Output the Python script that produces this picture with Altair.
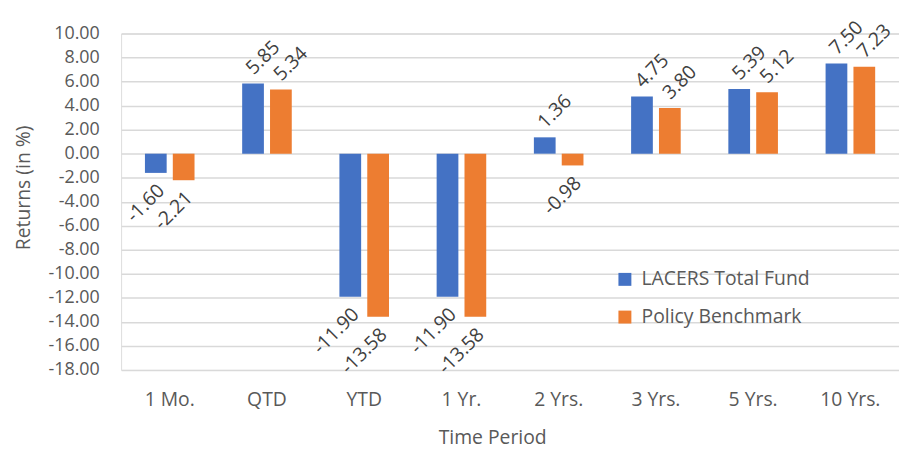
import altair as alt
import pandas as pd

periods = ["1 Mo.", "QTD", "YTD", "1 Yr.", "2 Yrs.", "3 Yrs.", "5 Yrs.", "10 Yrs."]
fund = [-1.60, 5.85, -11.90, -11.90, 1.36, 4.75, 5.39, 7.50]
bench = [-2.21, 5.34, -13.58, -13.58, -0.98, 3.80, 5.12, 7.23]
series_names = ["LACERS Total Fund", "Policy Benchmark"]
colors = ["#4472C4", "#ED7D31"]
y_ticks = [-18, -16, -14, -12, -10, -8, -6, -4, -2, 0, 2, 4, 6, 8, 10]

rows = []
for s, vals in zip(series_names, [fund, bench]):
    for p, v in zip(periods, vals):
        rows.append({"period": p, "series": s, "value": v})
df = pd.DataFrame(rows)

FONT = "Open Sans"
FS = 19.5
MINUS_FIX = "replace(format(datum.value, '.2f'), '\u2212', '-')"

x_enc = alt.X("period:N", sort=periods,
              scale=alt.Scale(paddingInner=0.49, paddingOuter=0.245),
              axis=alt.Axis(title="Time Period", labelAngle=0, domain=False, ticks=False,
                            labelPadding=21, labelFontSize=FS, labelColor="#595959",
                            titleFontSize=FS, titleColor="#595959", titleFontWeight="normal",
                            titleX=374, titleY=68, titleBaseline="middle", titleFont=FONT,
                            labelFont=FONT))
xoff = alt.XOffset("series:N", sort=series_names,
                   scale=alt.Scale(paddingInner=0.22, paddingOuter=0))

y_scale = alt.Scale(domain=[-18, 10], nice=False, zero=False)

bars = alt.Chart(df).mark_bar().encode(
    x=x_enc,
    xOffset=xoff,
    y=alt.Y("value:Q", scale=y_scale,
            axis=alt.Axis(title="Returns (in %)", values=y_ticks,
                          labelExpr=MINUS_FIX, labelOverlap=False, tickCount=15,
                          domain=False, ticks=False, labelPadding=22,
                          labelFontSize=18, labelColor="#595959", labelFont=FONT,
                          grid=True, gridColor="#d9d9d9", gridWidth=1.5,
                          titleFontSize=FS, titleColor="#595959", titleFontWeight="normal",
                          titleFont=FONT, titleX=-98, titleY=155, titleBaseline="middle")),
    color=alt.Color("series:N", sort=series_names,
                    scale=alt.Scale(domain=series_names, range=colors),
                    legend=alt.Legend(title=None, orient="none", legendX=498, legendY=238,
                                      symbolType="square", symbolSize=170,
                                      symbolStrokeWidth=0, labelFontSize=FS,
                                      labelColor="#595959", labelFont=FONT, labelLimit=400,
                                      rowPadding=17, labelOffset=7)),
)

pos = alt.Chart(df).transform_filter("datum.value >= 0").transform_calculate(
    ly="datum.value + 1.3", txt=MINUS_FIX
).mark_text(angle=315, align="left", baseline="middle", fontSize=FS,
            font=FONT, color="#404040", dx=-5).encode(
    x=alt.X("period:N", sort=periods),
    xOffset=alt.XOffset("series:N", sort=series_names),
    y=alt.Y("ly:Q"),
    text="txt:N",
)

neg = alt.Chart(df).transform_filter("datum.value < 0").transform_calculate(
    ly="datum.value - 1.7", txt=MINUS_FIX
).mark_text(angle=315, align="right", baseline="middle", fontSize=FS,
            font=FONT, color="#404040", dx=8).encode(
    x=alt.X("period:N", sort=periods),
    xOffset=alt.XOffset("series:N", sort=series_names),
    y=alt.Y("ly:Q"),
    text="txt:N",
)

chart = alt.layer(bars, pos, neg).properties(
    width=784, height=339,
    autosize=alt.AutoSizeParams(type="none"),
    padding={"left": 114, "top": 24, "right": 0, "bottom": 82},
).configure_view(stroke=None).configure(font=FONT)

chart.save("out.html", embed_options={"renderer": "svg", "actions": False})
